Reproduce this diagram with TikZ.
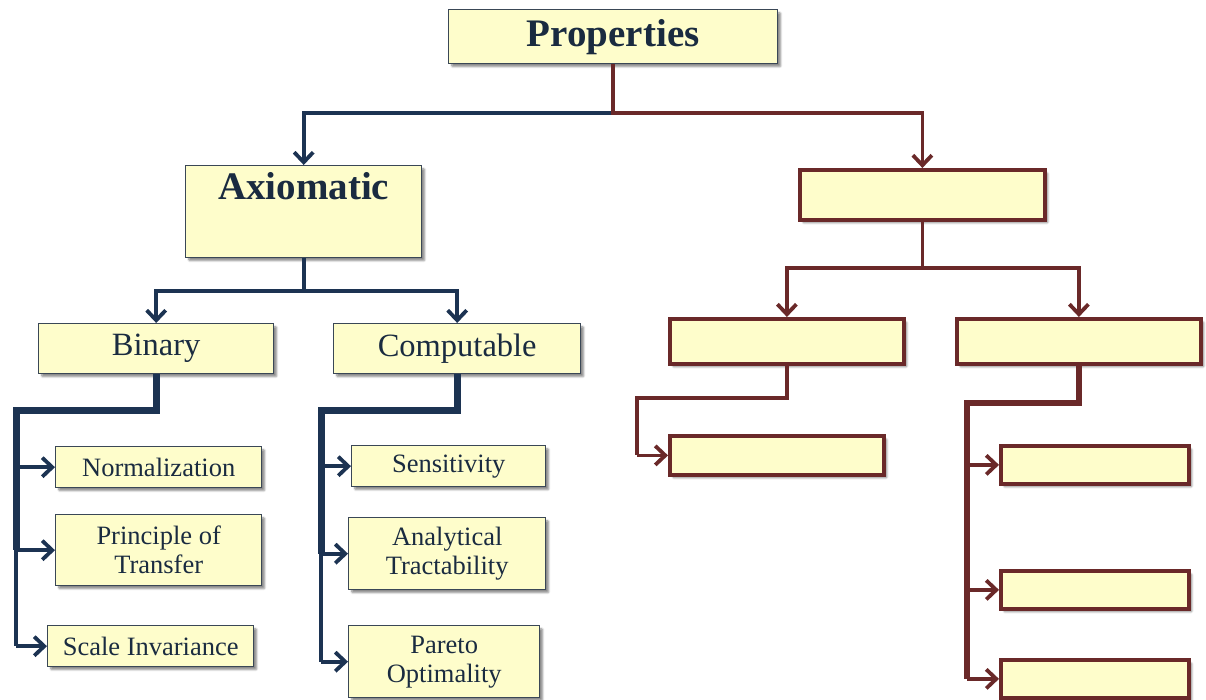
\documentclass[tikz,border=0pt]{standalone}
\usepackage{fontspec}
\setmainfont{Liberation Serif}
\usetikzlibrary{arrows.meta,shadows.blur}

\definecolor{boxfill}{HTML}{FEFDCB}
\definecolor{navyline}{HTML}{1C3352}
\definecolor{navytext}{HTML}{1A2B40}
\definecolor{navyedge}{HTML}{3A4756}
\definecolor{wine}{HTML}{6A2929}

\tikzset{
  basebox/.style={rectangle, fill=boxfill, anchor=north west, inner sep=0pt,
    align=center, text=navytext,
    blur shadow={shadow xshift=3pt, shadow yshift=-3pt, shadow blur steps=6,
      shadow blur extra rounding=1pt, shadow opacity=45}},
  nbox/.style={basebox, draw=navyedge, line width=1.4pt},
  rbox/.style={basebox, draw=wine, line width=3.8pt},
  headfont/.style={font=\fontsize{39}{42}\selectfont\bfseries},
  midfont/.style={font=\fontsize{32.5}{34}\selectfont},
  smallfont/.style={font=\fontsize{26.5}{29}\selectfont},
  tip/.style={-{Straight Barb[length=10pt,width=19pt]}},
  nline/.style={draw=navyline, line width=3.8pt, line join=miter},
  nthick/.style={draw=navyline, line width=7pt, line join=miter},
  rline/.style={draw=wine, line width=3.8pt, line join=miter},
  rthick/.style={draw=wine, line width=5.5pt, line join=miter},
}

\begin{document}
\begin{tikzpicture}[x=1pt,y=-1pt]
\useasboundingbox (0,0) rectangle (1206,700);

% ---- boxes ----
\node[nbox, headfont, minimum width=329pt, minimum height=54pt] (prop) at (448,9) {Properties};
\node[nbox, minimum width=236pt, minimum height=92pt,
  label={[name=axlabel, anchor=north, headfont, text=navytext, yshift=-4pt]north:Axiomatic}] (ax) at (185,165) {};
\node[rbox, minimum width=245pt, minimum height=50pt] (r1) at (798,168) {};

\node[nbox, midfont, minimum width=235pt, minimum height=50pt] (bin) at (38,323) {Binary};
\node[nbox, midfont, minimum width=247pt, minimum height=50pt] (comp) at (333,323) {Computable};
\node[rbox, minimum width=234pt, minimum height=45pt] (r2) at (668,317) {};
\node[rbox, minimum width=244pt, minimum height=45pt] (r3) at (955,317) {};
\node[rbox, minimum width=214pt, minimum height=39pt] (r4) at (668,434) {};

\node[nbox, smallfont, minimum width=206pt, minimum height=41pt] (norm) at (55,446) {Normalization};
\node[nbox, smallfont, minimum width=206pt, minimum height=71pt] (pot) at (55,514) {Principle of\\Transfer};
\node[nbox, smallfont, minimum width=206pt, minimum height=41pt] (scale) at (47,625) {Scale Invariance};

\node[nbox, smallfont, minimum width=194pt, minimum height=41pt] (sens) at (351,445) {Sensitivity};
\node[nbox, smallfont, minimum width=197pt, minimum height=72pt] (anal) at (348,517) {Analytical\\Tractability};
\node[nbox, smallfont, minimum width=191pt, minimum height=72pt] (par) at (348,625) {Pareto\\Optimality};

\node[rbox, minimum width=188pt, minimum height=38pt] (r5) at (999,444) {};
\node[rbox, minimum width=188pt, minimum height=38pt] (r6) at (999,569) {};
\node[rbox, minimum width=188pt, minimum height=38pt] (r7) at (999,658) {};

% ---- top level split ----
\coordinate (top) at (612.5,113);
\draw[nline, tip] (prop.south |- top) -| (ax.north);
\draw[rline, tip] (prop.south) -- (prop.south |- top) -| (r1.north);

% ---- Axiomatic branch ----
\coordinate (axsplit) at (303,291);
\draw[nline] (ax.south) -- (ax.south |- axsplit);
\draw[nline, tip] (ax.south |- axsplit) -| (bin.north);
\draw[nline, tip] (ax.south |- axsplit) -| (comp.north);

% ---- Binary bracket ----
\coordinate (bk) at (16,410);
\draw[nthick] (bin.south) |- (bk) -- (bk |- pot.west);
\draw[nline] (bk |- pot.west) -- (bk |- scale.west);
\draw[nline, tip] (bk |- norm.west) -- (norm.west);
\draw[nline, tip] (bk |- pot.west) -- (pot.west);
\draw[nline, tip] (bk |- scale.west) -- (scale.west);

% ---- Computable bracket ----
\coordinate (ck) at (321,410);
\draw[nthick] (comp.south) |- (ck) -- (ck |- anal.west);
\draw[nline] (ck |- anal.west) -- (ck |- par.west);
\draw[nline, tip] (ck |- sens.west) -- (sens.west);
\draw[nline, tip] (ck |- anal.west) -- (anal.west);
\draw[nline, tip] (ck |- par.west) -- (par.west);

% ---- right branch ----
\coordinate (rsplit) at (920,268);
\draw[rline] (r1.south) -- (r1.south |- rsplit);
\draw[rline, tip] (r1.south |- rsplit) -| (r2.north);
\draw[rline, tip] (r1.south |- rsplit) -| (r3.north);

\coordinate (r2k) at (637,398);
\draw[rline] (r2.south) |- (r2k) -- (r2k |- r4.west);
\draw[rline, tip] (r2k |- r4.west) -- (r4.west);

\coordinate (r3k) at (967,403);
\draw[rthick] (r3.south) |- (r3k) -- (r3k |- r7.west);
\draw[rline, tip] (r3k |- r5.west) -- (r5.west);
\draw[rline, tip] (r3k |- r6.west) -- (r6.west);
\draw[rline, tip] (r3k |- r7.west) -- (r7.west);
\end{tikzpicture}
\end{document}
